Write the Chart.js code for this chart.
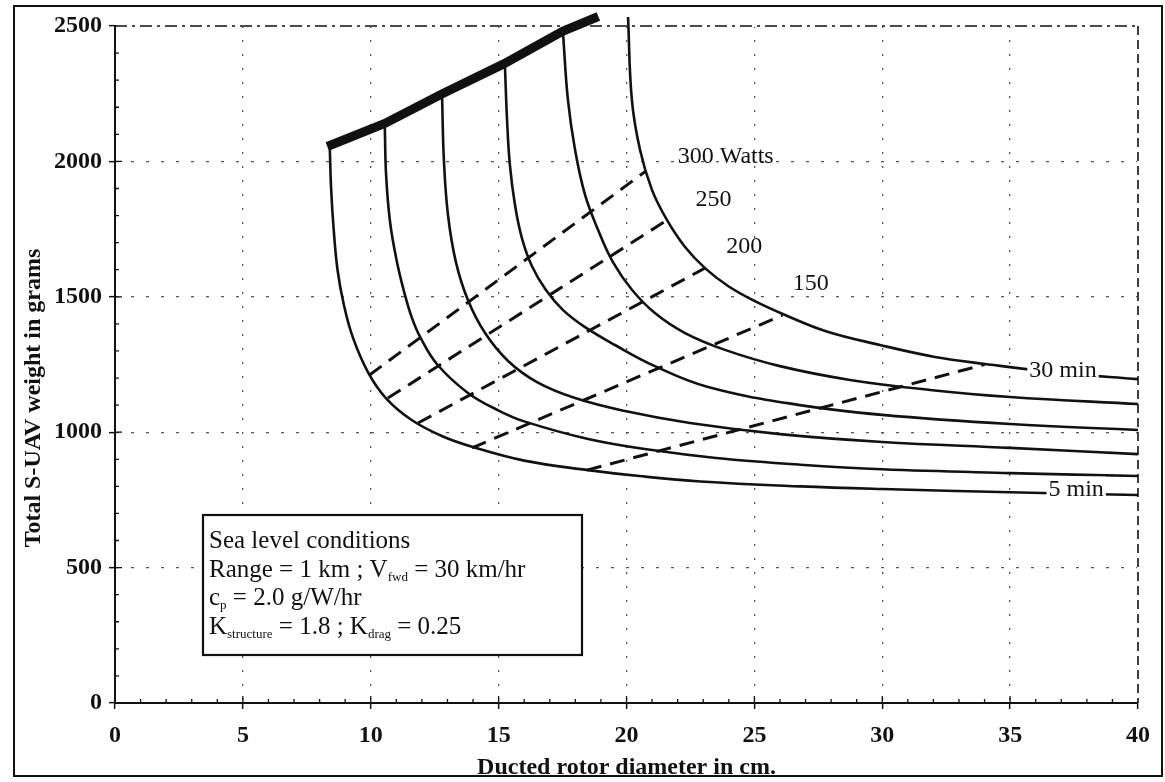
<!DOCTYPE html>
<html>
<head>
<meta charset="utf-8">
<script src="https://cdn.jsdelivr.net/npm/chart.js@4.4.1/dist/chart.umd.min.js"></script>
<style>
  body { margin: 0; background: #fff; }
  canvas { display: block; }
</style>
</head>
<body>
<canvas id="grafico" width="1165" height="782"></canvas>
<script>
// Curvas de autonomia (5 a 30 min): [diametro cm, peso g]
const min5 = [[8.4,2045],[8.45,1900],[8.55,1750],[8.7,1600],[8.95,1470],[9.3,1350],[9.9,1220],[10.6,1125],[11.6,1045],[12.8,985],[14,945],[16,895],[18.5,860],[20.5,838],[22.9,818],[26.8,800],[30,790],[35,778],[40,768]];
const min10 = [[10.55,2125],[10.6,1950],[10.75,1780],[11,1640],[11.3,1520],[11.6,1425],[11.95,1348],[12.6,1250],[13.8,1145],[15,1080],[16,1040],[18.5,975],[21,934],[23.5,905],[26.8,880],[30,863],[35,849],[40,838]];
const min15 = [[12.79,2234],[12.86,2005],[13.02,1802],[13.33,1628],[13.8,1488],[14.47,1366],[15.37,1263],[16.5,1185],[17.99,1126],[19.94,1078],[22.48,1034],[26,993],[30,964],[35,942],[40,919]];
const min20 = [[15.25,2345],[15.33,2153],[15.44,1987],[15.64,1839],[15.91,1717],[16.3,1614],[16.85,1525],[17.52,1451],[18.38,1388],[19.55,1322],[21.11,1244],[23.19,1167],[26.78,1100],[30,1064],[35,1030],[40,1008]];
const min25 = [[17.52,2470],[17.71,2227],[17.99,2042],[18.38,1876],[18.89,1747],[19.47,1628],[20.22,1525],[21.11,1440],[22.29,1366],[23.85,1304],[26,1244],[28.74,1193],[31.87,1156],[35,1130],[40,1104]];
const min30 = [[20.06,2533],[20.21,2227],[20.53,2042],[21,1894],[21.58,1784],[22.29,1684],[23.07,1606],[23.97,1540],[25.02,1484],[26.2,1433],[27.8,1373],[29.91,1322],[32.06,1278],[34.02,1252],[36.95,1219],[40,1196]];

// limite superior (linea gruesa)
const limite = [[8.3,2055],[10.55,2140],[12.8,2250],[15.2,2360],[17.5,2480],[18.9,2535]];

// lineas de potencia (discontinuas)
const w300 = [[9.95,1211],[20.77,1965]];
const w250 = [[10.67,1126],[21.6,1784]];
const w200 = [[11.85,1034],[23.05,1605]];
const w150 = [[13.96,942],[26.1,1432]];
const w100 = [[18.45,860],[34.0,1250]];

// etiquetas
const powerLabels = ['300 Watts', '250', '200', '150'];
const powerLabelPos = [[22.0,2018],[22.7,1858],[23.9,1685],[26.5,1549]];
const timeLabels = ['30 min', '5 min'];
const timeLabelPos = [[35.75,1228],[36.5,788]];

const xTicks = [0, 5, 10, 15, 20, 25, 30, 35, 40];
const yTicks = [0, 500, 1000, 1500, 2000, 2500];

const boxLines = [
    [['Sea level conditions']],
    [['Range = 1 km ; V'], ['fwd', 1], [' = 30 km/hr']],
    [['c'], ['p', 1], [' = 2.0 g/W/hr']],
    [['K'], ['structure', 1], [' = 1.8 ; K'], ['drag', 1], [' = 0.25']]
];

const SERIF = '"Liberation Serif", "DejaVu Serif", serif';
const pts = a => a.map(p => ({x: p[0], y: p[1]}));

function curva(arr) {
    return {data: pts(arr), borderColor: '#111', borderWidth: 2.6, tension: 0.4, clip: 12};
}
function potencia(arr) {
    return {data: pts(arr), borderColor: '#111', borderWidth: 3, borderDash: [15, 9], clip: 12};
}

// decoraciones: bordes, marcas menores, etiquetas, cuadro de texto
const extras = {
    id: 'extras',
    beforeDatasetsDraw(chart) {
        const ctx = chart.ctx;
        const a = chart.chartArea;
        const sx = chart.scales.x, sy = chart.scales.y;
        ctx.save();
        // marco exterior
        ctx.strokeStyle = '#111';
        ctx.lineWidth = 2;
        ctx.strokeRect(14, 6, 1148, 770);
        // borde superior y derecho discontinuo
        ctx.fillStyle = '#fff';
        ctx.fillRect(a.left + 2, a.top - 1, a.right - a.left, 2);
        ctx.fillRect(a.right - 1, a.top, 2, a.bottom - a.top - 2);
        ctx.lineWidth = 1.6;
        ctx.setLineDash([12, 5, 3, 5]);
        ctx.beginPath(); ctx.moveTo(a.left, a.top); ctx.lineTo(a.right, a.top); ctx.stroke();
        ctx.setLineDash([9, 5]);
        ctx.beginPath(); ctx.moveTo(a.right, a.top); ctx.lineTo(a.right, a.bottom); ctx.stroke();
        ctx.setLineDash([]);
        // marcas menores
        ctx.lineWidth = 1.3;
        ctx.beginPath();
        for (let v = 1; v < 40; v++) {
            const px = sx.getPixelForValue(v);
            ctx.moveTo(px, a.bottom); ctx.lineTo(px, a.bottom - (v % 5 === 0 ? 7 : 4));
        }
        for (let v = 100; v < 2500; v += 100) {
            const py = sy.getPixelForValue(v);
            ctx.moveTo(a.left, py); ctx.lineTo(a.left + (v % 500 === 0 ? 7 : 4), py);
        }
        ctx.stroke();
        ctx.restore();
    },
    afterDatasetsDraw(chart) {
        const ctx = chart.ctx;
        const sx = chart.scales.x, sy = chart.scales.y;
        ctx.save();
        ctx.fillStyle = '#111';
        ctx.textBaseline = 'middle';
        ctx.textAlign = 'left';
        ctx.font = '24px ' + SERIF;
        powerLabels.forEach((t, i) => {
            ctx.fillText(t, sx.getPixelForValue(powerLabelPos[i][0]), sy.getPixelForValue(powerLabelPos[i][1]));
        });
        timeLabels.forEach((t, i) => {
            const px = sx.getPixelForValue(timeLabelPos[i][0]);
            const py = sy.getPixelForValue(timeLabelPos[i][1]);
            const w = ctx.measureText(t).width;
            ctx.fillStyle = '#fff';
            ctx.fillRect(px - 2, py - 13, w + 4, 24);
            ctx.fillStyle = '#111';
            ctx.fillText(t, px, py);
        });

        // cuadro de condiciones
        const bx = 203, by = 515, bw = 379, bh = 140;
        ctx.fillStyle = '#fff';
        ctx.fillRect(bx, by, bw, bh);
        ctx.strokeStyle = '#111';
        ctx.lineWidth = 2.2;
        ctx.strokeRect(bx, by, bw, bh);
        ctx.fillStyle = '#111';
        ctx.textBaseline = 'alphabetic';
        boxLines.forEach((line, i) => {
            let x = bx + 6;
            const y = by + 33 + i * 28.5;
            line.forEach(seg => {
                ctx.font = (seg[1] ? '13px ' : '25px ') + SERIF;
                ctx.fillText(seg[0], x, y + (seg[1] ? 4 : 0));
                x += ctx.measureText(seg[0]).width;
            });
        });

        // titulo eje y
        ctx.font = 'bold 24px ' + SERIF;
        ctx.textAlign = 'center';
        ctx.textBaseline = 'middle';
        ctx.translate(34, 398);
        ctx.rotate(-Math.PI / 2);
        ctx.fillText('Total S-UAV weight in grams', 0, 0);
        ctx.restore();
    }
};

Chart.defaults.font.family = SERIF;
Chart.defaults.color = '#111';

const ctx = document.getElementById('grafico').getContext('2d');
const grafico = new Chart(ctx, {
    type: 'scatter',
    data: {
        datasets: [
            curva(min5), curva(min10), curva(min15), curva(min20), curva(min25), curva(min30),
            {data: pts(limite), borderColor: '#111', borderWidth: 9, clip: 20},
            potencia(w300), potencia(w250), potencia(w200), potencia(w150), potencia(w100)
        ]
    },
    options: {
        responsive: false,
        animation: false,
        devicePixelRatio: 1,
        showLine: true,
        elements: {point: {radius: 0, hoverRadius: 0}},
        layout: {padding: {left: 14, top: 26, right: 27, bottom: 0}},
        plugins: {legend: {display: false}, tooltip: {enabled: false}},
        scales: {
            x: {
                type: 'linear', min: 0, max: 40,
                afterBuildTicks: s => { s.ticks = xTicks.map(v => ({value: v})); },
                afterFit: s => { s.height = 79; },
                grid: {color: '#555', lineWidth: 1.3, tickLength: 6, tickColor: '#111', tickWidth: 1.5},
                border: {color: '#111', width: 2, dash: [2, 12]},
                ticks: {font: {size: 24, weight: 'bold'}, padding: 12, maxRotation: 0, callback: v => String(v)},
                title: {display: true, text: 'Ducted rotor diameter in cm.', font: {size: 24, weight: 'bold'}, padding: {top: 0, bottom: 0}}
            },
            y: {
                type: 'linear', min: 0, max: 2500,
                afterBuildTicks: s => { s.ticks = yTicks.map(v => ({value: v})); },
                afterFit: s => { s.width = 101; },
                grid: {color: '#555', lineWidth: 1.3, tickLength: 6, tickColor: '#111', tickWidth: 1.5},
                border: {color: '#111', width: 2, dash: [3, 12]},
                ticks: {font: {size: 24, weight: 'bold'}, padding: 7, callback: v => String(v)}
            }
        }
    },
    plugins: [extras]
});
</script>
</body>
</html>
